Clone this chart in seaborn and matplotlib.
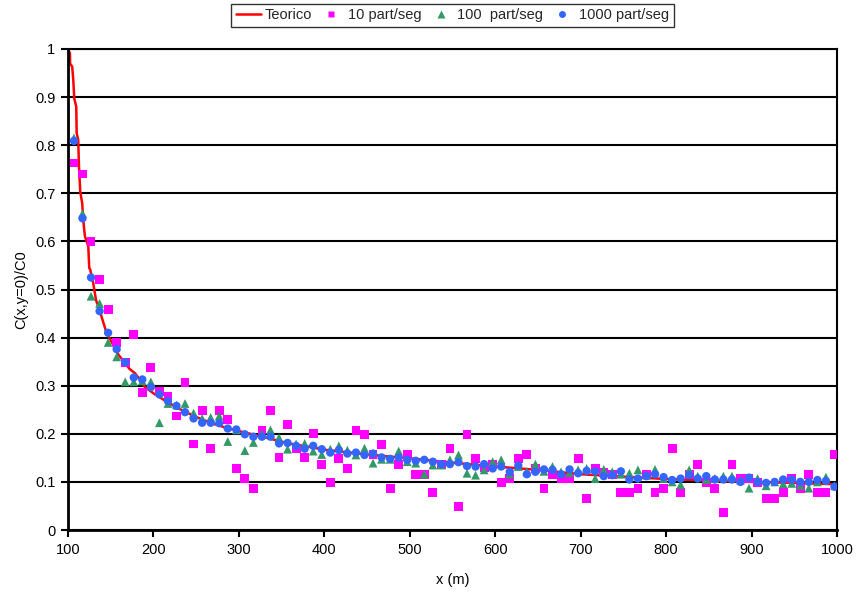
import matplotlib
matplotlib.use("Agg")
import matplotlib.pyplot as plt
import seaborn as sns
import pandas as pd
from matplotlib.lines import Line2D
from matplotlib.ticker import FuncFormatter

# Sampling positions along the centreline (m)
x_m = [107, 117, 127, 137, 147, 157, 167, 177, 187, 197,
       207, 217, 227, 237, 247, 257, 267, 277, 287, 297,
       307, 317, 327, 337, 347, 357, 367, 377, 387, 397,
       407, 417, 427, 437, 447, 457, 467, 477, 487, 497,
       507, 517, 527, 537, 547, 557, 567, 577, 587, 597,
       607, 617, 627, 637, 647, 657, 667, 677, 687, 697,
       707, 717, 727, 737, 747, 757, 767, 777, 787, 797,
       807, 817, 827, 837, 847, 857, 867, 877, 887, 897,
       907, 917, 927, 937, 947, 957, 967, 977, 987, 997]

# Relative concentration, 10 particles per second
c_10 = [0.763, 0.740, 0.600, 0.520, 0.459, 0.390, 0.348, 0.407, 0.286, 0.338,
        0.288, 0.278, 0.237, 0.307, 0.179, 0.249, 0.170, 0.249, 0.229, 0.128,
        0.107, 0.087, 0.208, 0.249, 0.150, 0.220, 0.169, 0.150, 0.200, 0.137,
        0.099, 0.149, 0.128, 0.207, 0.199, 0.157, 0.178, 0.087, 0.137, 0.157,
        0.116, 0.116, 0.078, 0.137, 0.170, 0.049, 0.199, 0.149, 0.130, 0.137,
        0.099, 0.107, 0.149, 0.157, 0.128, 0.087, 0.116, 0.107, 0.107, 0.149,
        0.066, 0.128, 0.120, 0.116, 0.078, 0.078, 0.087, 0.116, 0.078, 0.087,
        0.170, 0.078, 0.116, 0.137, 0.099, 0.087, 0.037, 0.137, 0.107, 0.107,
        0.099, 0.066, 0.066, 0.078, 0.107, 0.087, 0.116, 0.078, 0.078, 0.157]

# Relative concentration, 100 particles per second
c_100 = [0.815, 0.658, 0.486, 0.471, 0.390, 0.360, 0.308, 0.308, 0.310, 0.308,
         0.223, 0.263, 0.260, 0.263, 0.243, 0.232, 0.234, 0.237, 0.184, 0.208,
         0.165, 0.182, 0.200, 0.208, 0.192, 0.168, 0.179, 0.180, 0.164, 0.157,
         0.168, 0.175, 0.166, 0.156, 0.170, 0.139, 0.147, 0.147, 0.164, 0.142,
         0.139, 0.116, 0.135, 0.135, 0.146, 0.156, 0.118, 0.114, 0.125, 0.142,
         0.146, 0.116, 0.132, 0.121, 0.137, 0.122, 0.132, 0.121, 0.119, 0.125,
         0.128, 0.107, 0.126, 0.121, 0.116, 0.118, 0.125, 0.114, 0.126, 0.107,
         0.100, 0.094, 0.125, 0.112, 0.105, 0.107, 0.112, 0.112, 0.104, 0.087,
         0.107, 0.092, 0.100, 0.096, 0.097, 0.093, 0.087, 0.100, 0.110, 0.092]

# Relative concentration, 1000 particles per second
c_1000 = [0.809, 0.648, 0.525, 0.455, 0.410, 0.376, 0.349, 0.317, 0.313, 0.297,
          0.282, 0.268, 0.258, 0.245, 0.232, 0.223, 0.223, 0.222, 0.211, 0.209,
          0.199, 0.194, 0.194, 0.194, 0.180, 0.181, 0.175, 0.169, 0.175, 0.168,
          0.161, 0.166, 0.159, 0.161, 0.156, 0.159, 0.151, 0.148, 0.151, 0.146,
          0.144, 0.146, 0.142, 0.137, 0.137, 0.141, 0.133, 0.132, 0.137, 0.128,
          0.132, 0.121, 0.134, 0.116, 0.121, 0.126, 0.125, 0.116, 0.126, 0.118,
          0.123, 0.122, 0.112, 0.114, 0.122, 0.105, 0.107, 0.112, 0.116, 0.110,
          0.104, 0.107, 0.114, 0.107, 0.112, 0.105, 0.105, 0.105, 0.100, 0.109,
          0.100, 0.098, 0.100, 0.105, 0.105, 0.100, 0.100, 0.104, 0.102, 0.090]

# Theoretical curve
teo_x = [100, 102.3, 102.5, 105, 106.2, 107.4, 109.7, 110.2, 112, 112.9,
         114.4, 116.7, 117.9, 119.9, 122, 123.8, 124.9, 126.1, 129.6, 132.8,
         135.5, 139.4, 145.3, 153, 158.9, 166.7, 172, 178.4, 184.3, 190.1,
         201.8, 215.5, 229.1, 248.6, 268.2, 287.6, 311, 334.4, 357.9, 385.2,
         400, 450, 500, 550, 600, 650, 700, 750, 800, 850,
         900, 950, 1000]
teo_y = [1.000, 0.991, 0.970, 0.963, 0.936, 0.897, 0.880, 0.825, 0.811, 0.755,
         0.703, 0.679, 0.644, 0.610, 0.600, 0.589, 0.545, 0.541, 0.513, 0.478,
         0.465, 0.443, 0.409, 0.385, 0.365, 0.347, 0.335, 0.326, 0.312, 0.297,
         0.282, 0.267, 0.253, 0.236, 0.222, 0.211, 0.201, 0.191, 0.180, 0.172,
         0.167, 0.157, 0.149, 0.140, 0.132, 0.125, 0.116, 0.111, 0.106, 0.103,
         0.100, 0.098, 0.095]

x_ticks = [100, 200, 300, 400, 500, 600, 700, 800, 900, 1000]
y_ticks = [0, 0.1, 0.2, 0.3, 0.4, 0.5, 0.6, 0.7, 0.8, 0.9, 1]

labels = ["Teorico", "10 part/seg", "100  part/seg", "1000 part/seg"]
col_teo, col_10, col_100, col_1000 = "#FF0000", "#FF00FF", "#339966", "#3366FF"

sns.set_theme(style="white")
plt.rcParams["font.family"] = ["Liberation Sans", "DejaVu Sans"]
plt.rcParams["axes.edgecolor"] = "black"

fig = plt.figure(figsize=(8.57, 5.93), dpi=100)
ax = fig.add_axes([0.0793, 0.1062, 0.8974, 0.8112])

sns.lineplot(x=teo_x, y=teo_y, sort=False, estimator=None, color=col_teo,
             linewidth=1.8, ax=ax, zorder=2)
sns.scatterplot(x=x_m, y=c_10, marker="s", color=col_10, s=40,
                edgecolor="none", linewidth=0, ax=ax, zorder=3)
sns.scatterplot(x=x_m, y=c_100, marker="^", color=col_100, s=40,
                edgecolor="none", linewidth=0, ax=ax, zorder=4)
sns.scatterplot(x=x_m, y=c_1000, marker="o", color=col_1000, s=36,
                edgecolor="none", linewidth=0, ax=ax, zorder=5)

ax.set_xlim(100, 1000)
ax.set_ylim(0, 1)
ax.set_xticks(x_ticks)
ax.set_yticks(y_ticks)
ax.yaxis.set_major_formatter(FuncFormatter(lambda v, p: f"{v:g}"))
ax.yaxis.grid(True, color="black", linewidth=1.5)
ax.xaxis.grid(False)
ax.set_axisbelow(True)
ax.tick_params(axis="both", direction="out", length=5, width=1.5,
               color="black", labelsize=10.5, labelcolor="black", pad=4)
ax.tick_params(axis="both", left=True, bottom=True)
for side, sp in ax.spines.items():
    sp.set_visible(True)
    sp.set_color("black")
    sp.set_linewidth(2.0 if side in ("left", "bottom") else 1.5)

ax.set_xlabel("x (m)", fontsize=10.5, color="black", labelpad=12)
ax.set_ylabel("C(x,y=0)/C0", fontsize=10.5, color="black", labelpad=5)

handles = [
    Line2D([], [], color=col_teo, linewidth=1.8),
    Line2D([], [], linestyle="none", marker="s", markersize=5,
           markerfacecolor=col_10, markeredgecolor="none"),
    Line2D([], [], linestyle="none", marker="^", markersize=5.5,
           markerfacecolor=col_100, markeredgecolor="none"),
    Line2D([], [], linestyle="none", marker="o", markersize=5,
           markerfacecolor=col_1000, markeredgecolor="none"),
]
leg = fig.legend(handles, labels, loc="center", bbox_to_anchor=(0.528, 0.974),
                 ncol=4, frameon=True, fancybox=False, fontsize=10.5,
                 handlelength=1.7, handletextpad=0.3, columnspacing=0.45,
                 borderpad=0.3, borderaxespad=0)
leg.get_frame().set_edgecolor("black")
leg.get_frame().set_linewidth(1.0)

fig.savefig("out.png", dpi=100)
